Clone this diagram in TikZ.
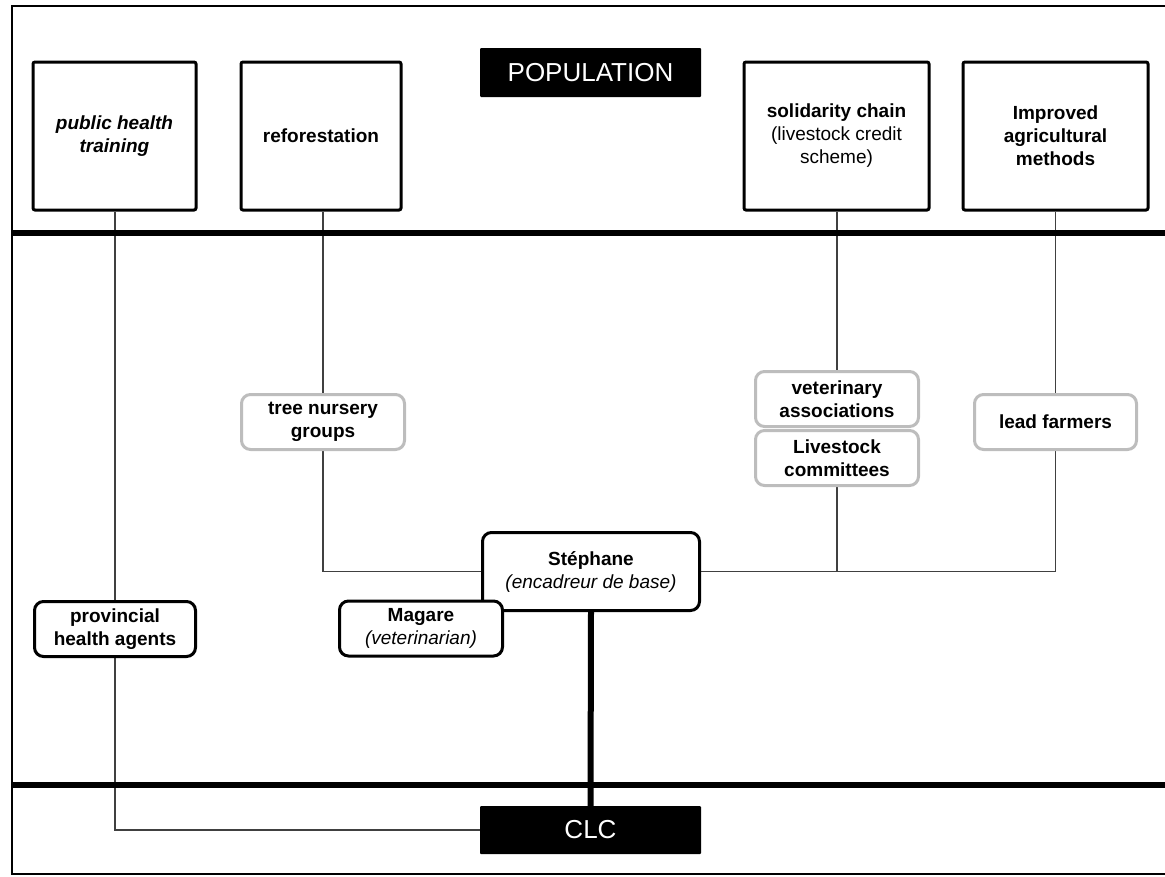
\documentclass[tikz,border=0pt]{standalone}
\usepackage{fontspec}
\setmainfont{Liberation Sans}
\usetikzlibrary{backgrounds}
\begin{document}
\begin{tikzpicture}[x=1pt,y=-1pt,
  txt/.style={font=\fontsize{19}{23}\selectfont, align=center, inner sep=0pt},
  topbox/.style={txt, draw=black, line width=3pt, rounded corners=2pt, fill=white, minimum width=163pt, minimum height=148pt},
  graybox/.style={txt, draw=black!26, line width=3pt, rounded corners=9pt, fill=white, minimum width=163pt, minimum height=55pt},
  blkbox/.style={txt, draw=black, line width=3pt, rounded corners=9pt, fill=white, minimum width=163pt, minimum height=55pt},
  bar/.style={fill=black, text=white, font=\fontsize{26}{30}\selectfont, inner sep=0pt, rounded corners=1pt, minimum width=221pt, minimum height=48pt},
  conn/.style={draw=black!75, line width=1.3pt},
  sep/.style={draw=black, line width=6pt}]
\useasboundingbox (0,0) rectangle (1165,876);
\clip (0,0) rectangle (1165,876);
% frame and separators
\draw[line width=2pt] (12,6) rectangle (1180,874);
\draw[sep] (12,233) -- (1180,233);
\draw[sep] (12,785) -- (1180,785);
% top boxes
\node[topbox] (pht) at (114.5,136) {\bfseries\itshape public health\\\bfseries\itshape training};
\node[topbox, minimum width=160pt] (refo) at (321,136) {\bfseries reforestation};
\node[topbox, minimum width=185pt] (sol) at (836.5,136) {\bfseries solidarity chain\\(livestock credit\\scheme)};
\node[topbox, minimum width=185pt] (impr) at (1055.5,136) {\bfseries Improved\\\bfseries agricultural\\\bfseries methods};
\node[bar, minimum height=49pt] (pop) at (590.5,72.5) {POPULATION};
\node[bar] (clc) at (590.5,830) {CLC};
% middle boxes
\node[graybox] (nurs) at (323,422) {\bfseries tree nursery\\\bfseries groups};
\node[graybox] (vet) at (837,399) {\bfseries veterinary\\\bfseries associations};
\node[graybox] (live) at (837,458) {\bfseries Livestock\\\bfseries committees};
\node[graybox, minimum width=162pt] (lead) at (1055.5,422) {\bfseries lead farmers};
\node[blkbox, minimum width=217pt, minimum height=78pt] (steph) at (591,571.5) {\bfseries St\'ephane\\\itshape (encadreur de base)};
\node[blkbox] (mag) at (421,628.5) {\bfseries Magare\\\itshape (veterinarian)};
\node[blkbox, minimum width=161pt] (prov) at (115,629) {\bfseries provincial\\\bfseries health agents};
% connectors
\begin{scope}[on background layer]
\draw[conn] (prov.north) -- (prov.north |- pht.south);
\draw[conn] (prov.south) |- (clc.west);
\draw[conn] (nurs.north) -- (nurs.north |- refo.south);
\draw[conn] (nurs.south) |- (steph.west);
\draw[conn] (vet.north) -- (vet.north |- sol.south);
\draw[conn] (live.south) -- (live.south |- steph.east);
\draw[conn] (lead.north) -- (lead.north |- impr.south);
\draw[conn] (lead.south) |- (steph.east);
\draw[line width=6pt] (steph.south) -- (clc.north);
\end{scope}
\end{tikzpicture}
\end{document}
